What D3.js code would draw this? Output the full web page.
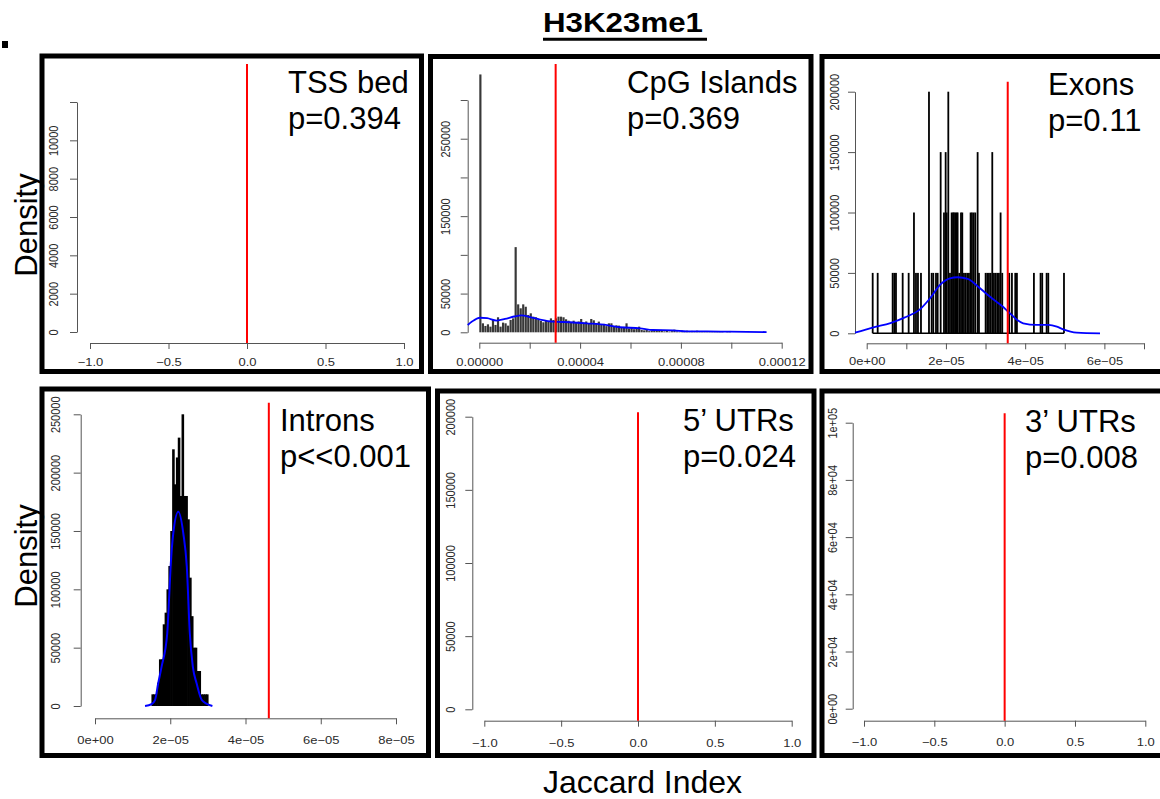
<!DOCTYPE html>
<html>
  <head>
    <meta charset="utf-8">
    <title>H3K23me1 Jaccard permutation histograms</title>
    <script src="https://d3js.org/d3.v7.min.js"></script>
    <style>
      body { margin: 0; background: #fff; }
      text { font-family: "Liberation Sans", Arial, sans-serif; }
    </style>
  </head>
  <body>
  <script type="text/javascript">
    // ---- data ----
    var title = "H3K23me1";
    var panelNames = ["TSS bed", "CpG Islands", "Exons", "Introns", "5\u2019 UTRs", "3\u2019 UTRs"];
    var pLabels = ["p=0.394", "p=0.369", "p=0.11", "p<<0.001", "p=0.024", "p=0.008"];
    var observed = [0, 3.03e-5, 3.56e-5, 4.62e-5, 0, 0];   // red lines

    var xDomains = [[-1, 1], [0, 0.00012], [0, 7e-5], [0, 8e-5], [-1, 1], [-1, 1]];
    var yDomains = [[0, 12000], [0, 300000], [0, 200000], [0, 250000], [0, 200000], [0, 100000]];

    var unitTicks = [-1, -0.5, 0, 0.5, 1];
    var unitLabels = ["\u22121.0", "\u22120.5", "0.0", "0.5", "1.0"];
    var xTicks = [
      unitTicks,
      [0, 2e-5, 4e-5, 6e-5, 8e-5, 1e-4, 1.2e-4],
      [0, 1e-5, 2e-5, 3e-5, 4e-5, 5e-5, 6e-5, 7e-5],
      [0, 2e-5, 4e-5, 6e-5, 8e-5],
      unitTicks,
      unitTicks
    ];
    var xTickLabels = [
      unitLabels,
      ["0.00000", "", "0.00004", "", "0.00008", "", "0.00012"],
      ["0e+00", "", "2e\u221205", "", "4e\u221205", "", "6e\u221205", ""],
      ["0e+00", "2e\u221205", "4e\u221205", "6e\u221205", "8e\u221205"],
      unitLabels,
      unitLabels
    ];
    var yTicks = [
      [0, 2000, 4000, 6000, 8000, 10000, 12000],
      [0, 50000, 100000, 150000, 200000, 250000, 300000],
      [0, 50000, 100000, 150000, 200000],
      [0, 50000, 100000, 150000, 200000, 250000],
      [0, 50000, 100000, 150000, 200000],
      [0, 20000, 40000, 60000, 80000, 100000]
    ];
    var yTickLabels = [
      ["0", "2000", "4000", "6000", "8000", "10000", ""],
      ["0", "50000", "", "150000", "", "250000", ""],
      ["0", "50000", "100000", "150000", "200000"],
      ["0", "50000", "100000", "150000", "200000", "250000"],
      ["0", "50000", "100000", "150000", "200000"],
      ["0e+00", "2e+04", "4e+04", "6e+04", "8e+04", "1e+05"]
    ];

    // CpG islands histogram (density per bin)
    var cpgBinStart = 0, cpgBinWidth = 1e-6;
    var cpgDensity = [333000, 11600, 8200, 10300, 7300, 15900, 9500, 19400, 7300, 12500,
      11600, 8600, 15900, 18000, 110000, 36100, 31000, 36100, 33000, 22400,
      24500, 20200, 19400, 16800, 14600, 12900, 15900, 13800, 18000, 15900,
      18000, 20200, 20200, 19400, 16800, 15000, 13000, 15000, 12000, 14000,
      17200, 12500, 14000, 11000, 17200, 15500, 11000, 13800, 9500, 10800,
      8000, 11600, 11600, 7500, 9000, 8600, 6000, 7000, 11600, 5000,
      6500, 4000, 5600, 7300, 3000, 2500, 3000, 1500, 2200, 2600,
      1800, 2400, 2000, 1200, 2000, 1000, 1500, 3400, 1200, 800,
      2100, 1500, 2100, 1000, 1800, 1500, 2100, 1300, 600, 1300,
      1300, 500, 800, 400, 1700, 1700, 1200, 0, 400, 1700];
    var cpgCurveX = [-4.6e-6, -2.9e-6, 0.3e-6, 3.1e-6, 6.9e-6, 1.02e-5, 1.38e-5, 1.68e-5, 2.01e-5, 2.41e-5,
      2.94e-5, 3.6e-5, 4.26e-5, 5.07e-5, 5.58e-5, 6.38e-5, 6.89e-5, 7.69e-5, 8.23e-5, 9.04e-5, 9.95e-5, 1.14e-4];
    var cpgCurveY = [9400, 13900, 18800, 18200, 15200, 17200, 20400, 21900, 19700, 16500,
      13700, 13000, 11600, 9400, 6500, 5200, 3000, 2600, 1300, 1200, 800, 300];

    // Exons: sparse single-count bins
    var exonBarX = [0.151, 0.277, 0.655, 0.697, 0.739, 0.908, 1.059, 1.193, 1.244, 1.294,
      1.370, 1.572, 1.640, 1.681, 1.749, 1.791, 1.867, 1.951, 1.993, 2.018,
      2.060, 2.102, 2.144, 2.178, 2.203, 2.236, 2.270, 2.295, 2.337, 2.380,
      2.413, 2.455, 2.497, 2.539, 2.581, 2.623, 2.657, 2.699, 2.741, 2.800,
      2.834, 3.002, 3.044, 3.086, 3.128, 3.170, 3.212, 3.254, 3.296, 3.338,
      3.380, 3.422, 3.599, 3.666, 3.750, 3.792, 4.221, 4.389, 4.431, 4.542,
      4.584, 4.980].map(function(v){ return v * 1e-5; });
    var exonBarY = [50000, 50000, 50000, 50000, 50000, 50000, 50000, 100000, 50000, 50000,
      50000, 200000, 50000, 50000, 50000, 50000, 150000, 100000, 150000, 100000,
      200000, 50000, 100000, 100000, 100000, 100000, 100000, 100000, 50000, 100000,
      100000, 50000, 50000, 50000, 50000, 100000, 100000, 100000, 100000, 150000,
      50000, 50000, 50000, 50000, 50000, 150000, 50000, 50000, 50000, 50000,
      100000, 50000, 50000, 50000, 50000, 50000, 50000, 50000, 50000, 50000,
      50000, 50000];
    var exonCurveX = [-0.295, 0.17, 0.6, 0.95, 1.35, 1.6, 1.85, 2.1, 2.3, 2.55, 2.8, 3.03, 3.2,
      3.4, 3.57, 3.8, 3.95, 4.29, 4.59, 4.8, 4.96, 5.3, 5.89].map(function(v){ return v * 1e-5; });
    var exonCurveY = [500, 5000, 8500, 13000, 20000, 29000, 40000, 45500, 46400, 45000, 39000, 32500, 28000,
      23000, 18000, 11000, 8300, 6900, 6900, 5500, 3300, 600, 0];

    // Introns histogram
    var intronBinStart = 1.5e-5, intronBinWidth = 5e-7;
    var intronDensity = [10000, 10000, 10000, 20000, 40000, 40000, 70000, 80000, 100000, 120000,
      150000, 220000, 190000, 213000, 230000, 180000, 250000, 180000, 180000, 160000,
      110000, 77000, 50000, 50000, 30000, 30000, 10000, 10000, 10000, 10000];
    var intronCurveX = [1.33, 1.5, 1.595, 1.68, 1.77, 1.92, 1.967, 2.01, 2.08, 2.214, 2.347, 2.44, 2.52,
      2.6, 2.70, 2.84, 3.12].map(function(v){ return v * 1e-5; });
    var intronCurveY = [0, 1500, 5100, 19500, 33700, 62300, 90800, 119400, 148000, 166500, 148000, 119400, 62300,
      33700, 19500, 5100, 0];

    // ---- layout (pixels) ----
    var layout = [
      {frame: [39.5, 53.5, 424, 374], x: [90, 404], y: [332, 102], axisY: 343, axisX: 77, top: 64, xLab: 23, yLab: 19, text: [288, 93]},
      {frame: [428, 54, 813.5, 374], x: [479.3, 781.7], y: [332.3, 100], axisY: 342.7, axisX: 467.7, top: 64, xLab: 23, yLab: 18, text: [627, 93]},
      {frame: [819.5, 54, 1166, 374], x: [866.7, 1144], y: [333.3, 91.7], axisY: 343.3, axisX: 855, top: 81.7, xLab: 22, yLab: 16, text: [1048, 95]},
      {frame: [39.5, 386.5, 431, 758], x: [95, 396], y: [706, 414.3], axisY: 718.3, axisX: 80.7, top: 402.7, xLab: 25.5, yLab: 21, text: [280, 431]},
      {frame: [435, 388.5, 816.5, 758], x: [484.3, 791.7], y: [709.3, 416.7], axisY: 720.7, axisX: 472.3, top: 412.3, xLab: 26, yLab: 17, text: [683, 431]},
      {frame: [819.5, 388.5, 1166, 758], x: [864, 1145.3], y: [708.7, 422.7], axisY: 720.7, axisX: 852.7, top: 413.3, xLab: 25, yLab: 15.5, text: [1025, 432]}
    ];

    var svg = d3.select("body").append("svg")
      .attr("width", 1160).attr("height", 799);

    // title
    svg.append("text")
      .attr("x", 623).attr("y", 32)
      .attr("text-anchor", "middle")
      .attr("font-size", 28).attr("font-weight", "bold")
      .attr("textLength", 160).attr("lengthAdjust", "spacingAndGlyphs")
      .text(title);
    svg.append("line")
      .attr("x1", 543).attr("x2", 707).attr("y1", 39.2).attr("y2", 39.2)
      .attr("stroke", "#000").attr("stroke-width", 3);
    svg.append("rect").attr("x", 2).attr("y", 41).attr("width", 6).attr("height", 7).attr("fill", "#000");

    var scales = [];

    layout.forEach(function(L, k){
      var g = svg.append("g");
      g.append("rect")
        .attr("x", L.frame[0] + 2.5).attr("y", L.frame[1] + 2.5)
        .attr("width", L.frame[2] - L.frame[0] - 5).attr("height", L.frame[3] - L.frame[1] - 5)
        .attr("fill", "#fff").attr("stroke", "#000").attr("stroke-width", 5);

      var xs = d3.scaleLinear().domain(xDomains[k]).range(L.x);
      var ys = d3.scaleLinear().domain(yDomains[k]).range(L.y);
      scales.push({g: g, x: xs, y: ys});

      var xAxis = g.append("g")
        .attr("transform", "translate(0," + L.axisY + ")")
        .call(d3.axisBottom(xs).tickValues(xTicks[k]).tickSize(6).tickSizeOuter(0)
          .tickFormat(function(d, i){ return xTickLabels[k][i]; }));
      xAxis.selectAll("text")
        .attr("y", L.xLab).attr("dy", 0)
        .attr("font-size", 11).attr("fill", "#2a2a2a")
        .attr("transform", "scale(1.18,1)");

      var yAxis = g.append("g")
        .attr("transform", "translate(" + L.axisX + ",0)")
        .call(d3.axisLeft(ys).tickValues(yTicks[k]).tickSize(7).tickSizeOuter(0)
          .tickFormat(function(d, i){ return yTickLabels[k][i]; }));
      yAxis.selectAll("text")
        .attr("x", 0).attr("y", 0).attr("dy", 0)
        .attr("text-anchor", "middle")
        .attr("font-size", 11).attr("fill", "#2a2a2a")
        .attr("transform", "translate(" + (-L.yLab) + ",0) scale(1.22,1) rotate(-90)");
      g.selectAll(".domain, .tick line").attr("stroke", "#555");
      g.selectAll(".tick text").attr("font-family", "Liberation Sans, Arial, sans-serif");
    });

    var line = d3.line().curve(d3.curveMonotoneX);

    // CpG bars
    var s1 = scales[1];
    s1.g.append("g").selectAll("rect")
      .data(cpgDensity).enter().append("rect")
        .attr("x", function(d, i){ return s1.x(cpgBinStart + i * cpgBinWidth); })
        .attr("width", function(){ return s1.x(cpgBinWidth) - s1.x(0) - 0.35; })
        .attr("y", function(d){ return s1.y(d); })
        .attr("height", function(d){ return s1.y(0) - s1.y(d); })
        .attr("fill", "#383838");
    s1.g.append("path")
      .attr("d", line(cpgCurveX.map(function(v, i){ return [s1.x(v), s1.y(cpgCurveY[i])]; })))
      .attr("fill", "none").attr("stroke", "#0000ff").attr("stroke-width", 1.8);

    // Exon bars
    var s2 = scales[2];
    s2.g.append("line")
      .attr("x1", s2.x(exonBarX[0])).attr("x2", s2.x(exonBarX[exonBarX.length - 1]))
      .attr("y1", s2.y(0)).attr("y2", s2.y(0))
      .attr("stroke", "#000").attr("stroke-width", 1.5);
    s2.g.append("g").selectAll("rect")
      .data(exonBarY).enter().append("rect")
        .attr("x", function(d, i){ return s2.x(exonBarX[i]) - 0.9; })
        .attr("width", 1.8)
        .attr("y", function(d){ return s2.y(d); })
        .attr("height", function(d){ return s2.y(0) - s2.y(d); })
        .attr("fill", "#000");
    s2.g.append("path")
      .attr("d", line(exonCurveX.map(function(v, i){ return [s2.x(v), s2.y(exonCurveY[i])]; })))
      .attr("fill", "none").attr("stroke", "#0000ff").attr("stroke-width", 1.8);

    // Intron bars
    var s3 = scales[3];
    s3.g.append("g").selectAll("rect")
      .data(intronDensity).enter().append("rect")
        .attr("x", function(d, i){ return s3.x(intronBinStart + i * intronBinWidth); })
        .attr("width", function(){ return s3.x(intronBinWidth) - s3.x(0) + 0.7; })
        .attr("y", function(d){ return s3.y(d); })
        .attr("height", function(d){ return s3.y(0) - s3.y(d); })
        .attr("fill", "#000");
    s3.g.append("path")
      .attr("d", line(intronCurveX.map(function(v, i){ return [s3.x(v), s3.y(intronCurveY[i])]; })))
      .attr("fill", "none").attr("stroke", "#0000ff").attr("stroke-width", 2);

    // observed lines and labels
    layout.forEach(function(L, k){
      var s = scales[k];
      s.g.append("line")
        .attr("x1", s.x(observed[k])).attr("x2", s.x(observed[k]))
        .attr("y1", L.top).attr("y2", L.axisY)
        .attr("stroke", "#ff0000").attr("stroke-width", 2);
      var t = s.g.append("text")
        .attr("x", L.text[0]).attr("y", L.text[1])
        .attr("font-size", 31).attr("fill", "#000");
      t.append("tspan").attr("x", L.text[0]).text(panelNames[k]);
      t.append("tspan").attr("x", L.text[0]).attr("dy", 36).text(pLabels[k]);
    });

    // shared axis titles
    [225, 556].forEach(function(cy){
      svg.append("text")
        .attr("transform", "translate(36.5," + cy + ") rotate(-90)")
        .attr("text-anchor", "middle")
        .attr("font-size", 31)
        .text("Density");
    });
    svg.append("text")
      .attr("x", 642.5).attr("y", 793)
      .attr("text-anchor", "middle")
      .attr("font-size", 32)
      .text("Jaccard Index");
  </script>
  </body>
</html>
